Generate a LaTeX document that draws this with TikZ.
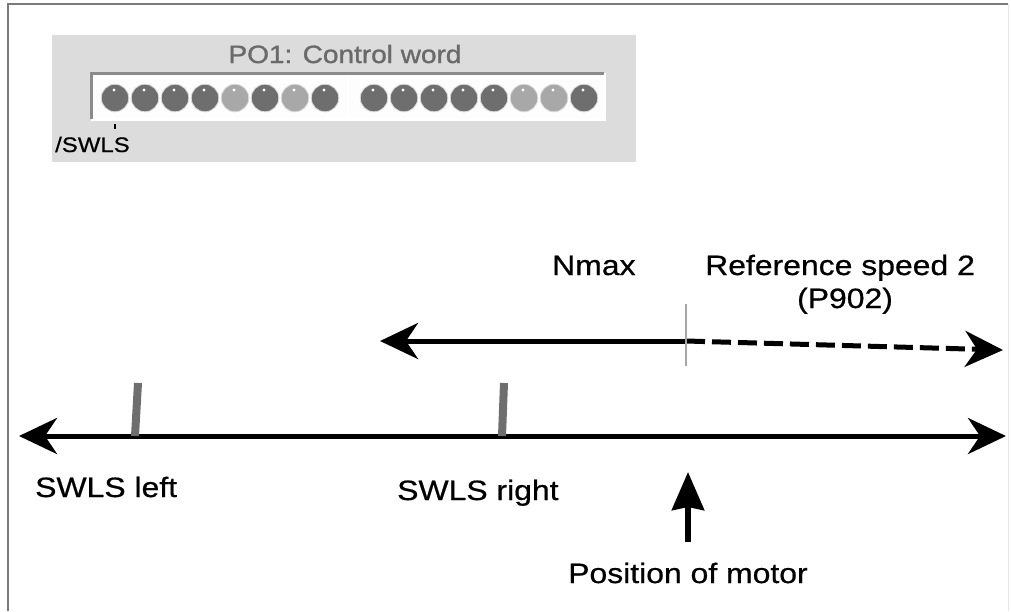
\documentclass[tikz,border=0pt]{standalone}
\usepackage{fontspec}
\setmainfont{Liberation Sans}
\newfontfamily\lblfont[FakeStretch=1.14,FakeBold=0.6]{Liberation Sans}
\newfontfamily\panelfont[FakeStretch=1.12,FakeBold=1.2]{Liberation Sans}
\usetikzlibrary{arrows.meta}

\definecolor{panelgray}{HTML}{DCDCDC}
\definecolor{ledDark}{HTML}{6E6E6E}
\definecolor{ledLight}{HTML}{A8A8A8}
\definecolor{frameDark}{HTML}{8A8A8A}
\definecolor{markgray}{HTML}{6E6E6E}
\definecolor{titlegray}{HTML}{6A6A6A}
\definecolor{borderGray}{HTML}{7A7A7A}

\begin{document}
\begin{tikzpicture}[x=1pt,y=-1pt,
  lbl/.style={font=\lblfont\fontsize{28}{30}\selectfont, inner sep=0pt, anchor=base west},
  axisline/.style={line width=5pt, -{Stealth[length=38pt,width=36pt,inset=12pt]}},
  marker/.style={draw=markgray, line width=8pt},
  led/.style={circle, minimum size=27.5pt, inner sep=0pt, draw=white!85!black, line width=0.8pt},
  sunkdark/.style={draw=frameDark, line width=3pt},
  sunklight/.style={draw=white, line width=3pt}]
\useasboundingbox (0,0) rectangle (1011,611);

% outer frame of the figure
\draw[borderGray, line width=1.5pt] (8,611) -- (8,4) -- (1008,4);
\draw[white!90!black, line width=1pt] (1008,4) -- (1008,611);

% control word panel
\fill[panelgray] (52,35) rectangle (636,162);
\node[font=\panelfont\fontsize{25}{27}\selectfont, text=titlegray, inner sep=0pt, anchor=base]
  (title) at (345,63) {PO1: Control word};

% sunken LED frames
\fill[white!94!panelgray] (91,73) rectangle (604,119);
\draw[sunklight] (91,119) -- (604,119) -- (604,73);
\draw[sunkdark] (91,119) -- (91,73) -- (604,73);
\draw[white, line width=2pt] (348,75) -- (348,119);

% LEDs, high byte and low byte
\foreach \col [count=\i from 0] in {ledDark,ledDark,ledDark,ledDark,ledLight,ledDark,ledLight,ledDark}{
  \node[led, fill=\col] (ledA\i) at (115+30*\i,98) {};
  \fill[white] (114+30*\i,90) circle (1.7);
}
\foreach \col [count=\i from 0] in {ledDark,ledDark,ledDark,ledDark,ledDark,ledLight,ledLight,ledDark}{
  \node[led, fill=\col] (ledB\i) at (374+30*\i,98) {};
  \fill[white] (373+30*\i,90) circle (1.7);
}

% bit label
\coordinate (bitTop) at (115,124);
\coordinate (bitBot) at (115,129);
\draw[black, line width=1.5pt] (bitTop) -- (bitBot);
\node[font=\lblfont\fontsize{21}{23}\selectfont, inner sep=0pt, anchor=base west]
  (swlsBit) at (55,152) {/SWLS};

% speed arrow
\coordinate (nLeft) at (380,341);
\coordinate (nSplit) at (686,341);
\coordinate (nRight) at (1003,350);
\draw[axisline] (nSplit) -- (nLeft);
\draw[axisline, dash pattern=on 19pt off 7pt] (nSplit) -- (nRight);
\coordinate (tickTop) at (686,304);
\coordinate (tickBot) at (686,366);
\draw[black!35, line width=2pt] (tickTop) -- (tickBot);
\node[lbl] (nmax) at (552,275) {Nmax};
\node[lbl] (refspd) at (705,275) {Reference speed 2};
\node[lbl, anchor=base] (p902) at (845,308) {(P902)};

% position axis
\coordinate (axLeft) at (19,436);
\coordinate (axRight) at (1006,436);
\coordinate (axMid) at (500,436);
\draw[axisline] (axMid) -- (axLeft);
\draw[axisline] (axMid) -- (axRight);

% software limit switch markers
\coordinate (mkLtop) at (138,383);
\coordinate (mkLbot) at (135,436);
\coordinate (mkRtop) at (504,383);
\coordinate (mkRbot) at (502,436);
\draw[marker] (mkLtop) -- (mkLbot);
\draw[marker] (mkRtop) -- (mkRbot);
\node[lbl] (swlsL) at (35,497) {SWLS left};
\node[lbl] (swlsR) at (397,500) {SWLS right};

% motor position
\coordinate (pmBot) at (688,542);
\coordinate (pmTip) at (688,472);
\draw[line width=6pt, -{Stealth[length=38pt,width=32pt,inset=3pt]}] (pmBot) -- (pmTip);
\node[lbl] (posMot) at (568,583) {Position of motor};
\end{tikzpicture}
\end{document}
